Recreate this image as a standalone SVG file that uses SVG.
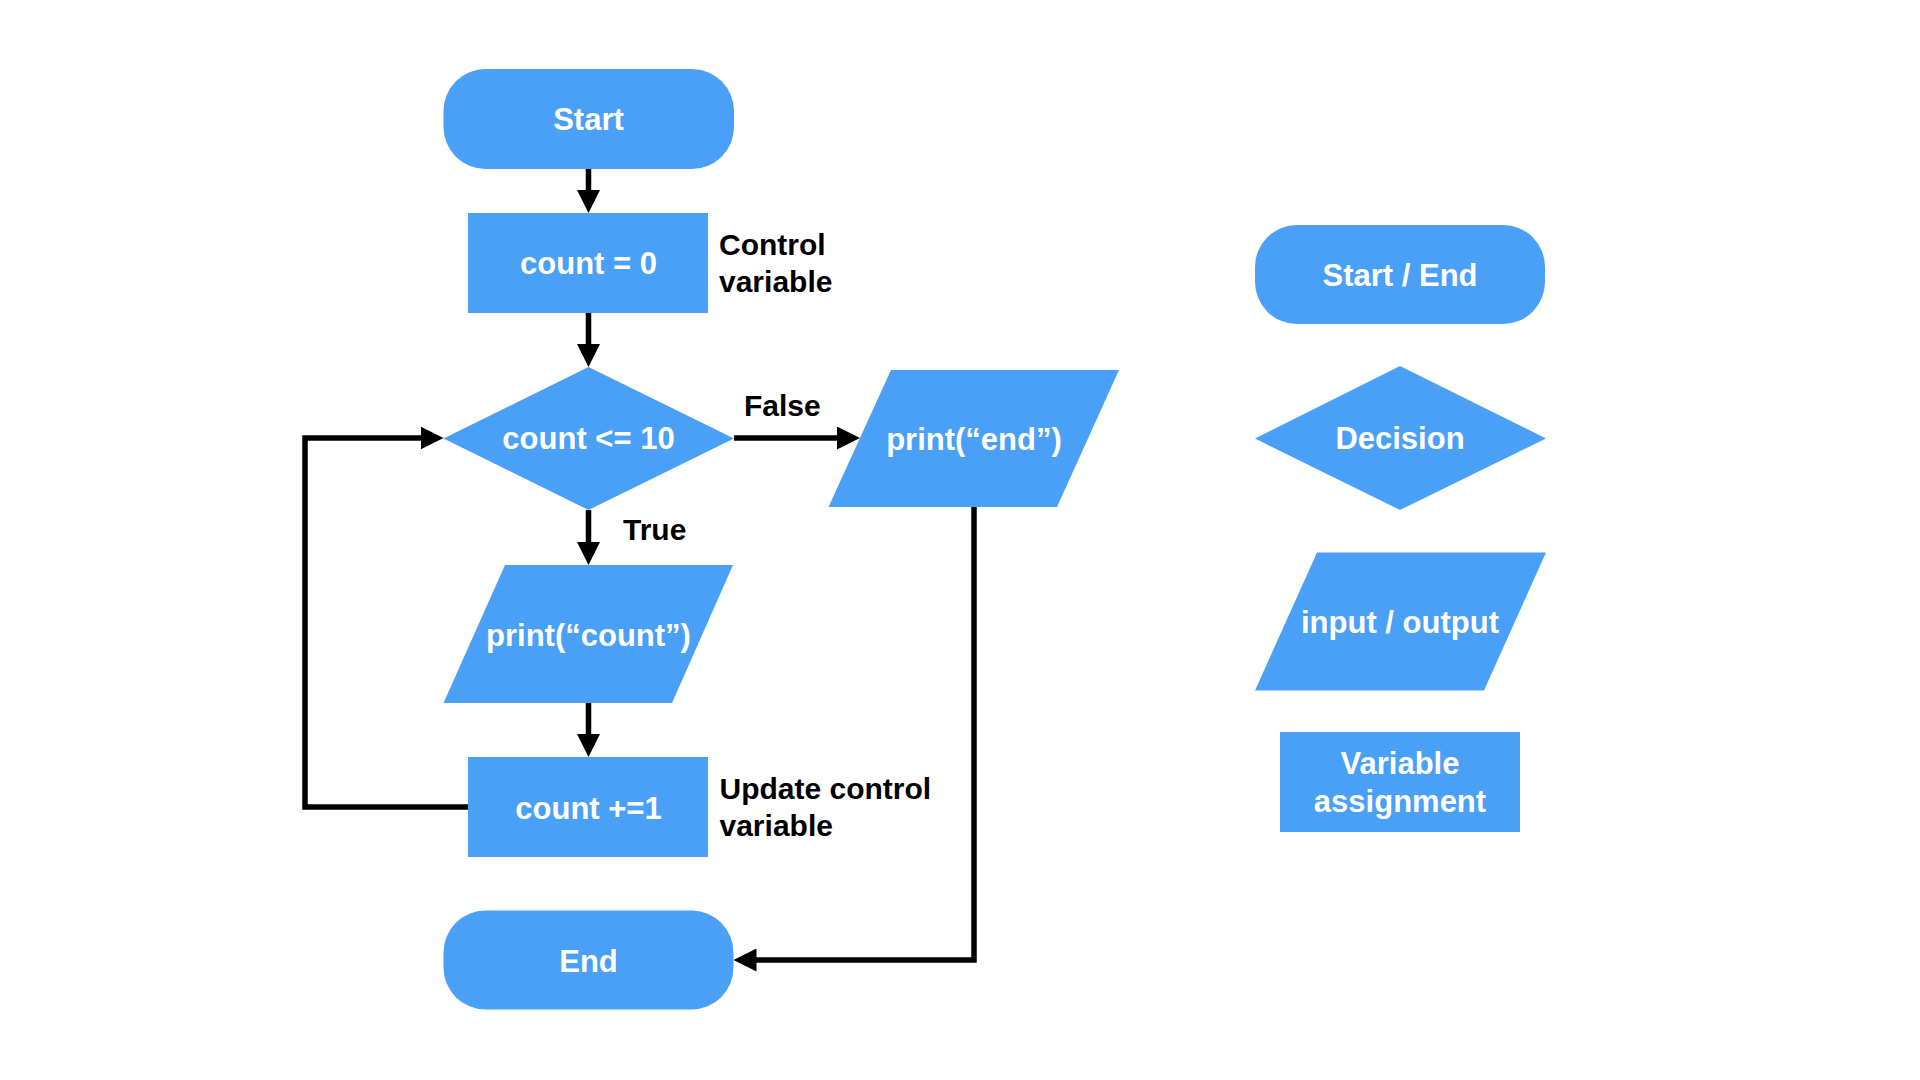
<svg xmlns="http://www.w3.org/2000/svg" width="1920" height="1080" viewBox="0 0 1920 1080">
<defs>
<style>
.shape{fill:#4A9FF7;}
.nt{font-family:"Liberation Sans",Arial,sans-serif;font-weight:bold;font-size:31px;fill:#ffffff;text-anchor:middle;}
.lb{font-family:"Liberation Sans",Arial,sans-serif;font-weight:bold;font-size:30px;fill:#000000;}
.conn{fill:none;stroke:#000000;stroke-width:5.5;stroke-linejoin:miter;marker-end:url(#arrow);}
</style>
<marker id="arrow" markerUnits="userSpaceOnUse" markerWidth="23" markerHeight="23" refX="11" refY="11.5" orient="auto">
<path d="M0,0 L23,11.5 L0,23 z" fill="#000000"/>
</marker>
</defs>
<rect width="1920" height="1080" fill="#ffffff"/>
<g id="connectors">
<path class="conn" d="M588.5,169 V201"/>
<path class="conn" d="M588.5,313 V355"/>
<path class="conn" d="M588.5,510 V553"/>
<path class="conn" d="M588.5,703 V745"/>
<path class="conn" d="M468,807 H305 V438 H431.5"/>
<path class="conn" d="M734,438 H848"/>
<path class="conn" d="M974,507 V960 H745.5"/>
</g>
<g id="start">
<rect class="shape" x="443.5" y="69" width="290.5" height="100" rx="42" ry="42"/>
<text class="nt" x="588.5" y="130">Start</text>
</g>
<g id="init">
<rect class="shape" x="468" y="213" width="240" height="100"/>
<text class="nt" x="588.5" y="274">count = 0</text>
</g>
<g id="decision">
<polygon class="shape" points="588.5,367 734,438.5 588.5,510 443.5,438.5"/>
<text class="nt" x="588.5" y="449">count &lt;= 10</text>
</g>
<g id="print-end">
<polygon class="shape" points="891,370 1119,370 1057,507 828.5,507"/>
<text class="nt" x="974" y="450">print(“end”)</text>
</g>
<g id="print-count">
<polygon class="shape" points="505,565 733,565 672,703 443.5,703"/>
<text class="nt" x="588.5" y="646">print(“count”)</text>
</g>
<g id="increment">
<rect class="shape" x="468" y="757" width="240" height="100"/>
<text class="nt" x="588.5" y="818.5">count +=1</text>
</g>
<g id="end">
<rect class="shape" x="443.5" y="910.5" width="290" height="99" rx="42" ry="42"/>
<text class="nt" x="588.5" y="971.5">End</text>
</g>
<g id="labels">
<text class="lb" x="719" y="255">Control</text>
<text class="lb" x="719" y="292">variable</text>
<text class="lb" x="744" y="416">False</text>
<text class="lb" x="623" y="539.5">True</text>
<text class="lb" x="719.5" y="799">Update control</text>
<text class="lb" x="719.5" y="836">variable</text>
</g>
<g id="legend-start-end">
<rect class="shape" x="1255" y="225" width="290" height="99" rx="42" ry="42"/>
<text class="nt" x="1400" y="286">Start / End</text>
</g>
<g id="legend-decision">
<polygon class="shape" points="1400,366 1546,438.5 1400,510 1255,438.5"/>
<text class="nt" x="1400" y="449">Decision</text>
</g>
<g id="legend-io">
<polygon class="shape" points="1317,552.5 1546,552.5 1484,690.5 1255,690.5"/>
<text class="nt" x="1400" y="632.5">input / output</text>
</g>
<g id="legend-assign">
<rect class="shape" x="1280" y="732" width="240" height="100"/>
<text class="nt" x="1400" y="773.5">Variable</text>
<text class="nt" x="1400" y="811.5">assignment</text>
</g>
</svg>
